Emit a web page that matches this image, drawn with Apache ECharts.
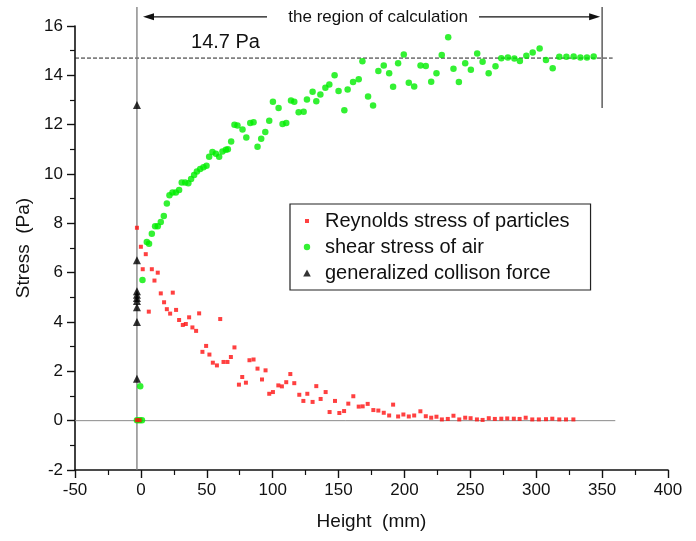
<!DOCTYPE html>
<html><head><meta charset="utf-8">
<script src="https://cdn.jsdelivr.net/npm/echarts@6/dist/echarts.min.js"></script>
<style>html,body{margin:0;padding:0;background:#fff}#c{width:696px;height:541px}</style>
</head><body><div id="c"></div>
<script>
// Reynolds stress of particles
const redX=[-3,-1,-3,0,3.7,1.4,8.3,12.8,10.3,6,15.1,24.2,17.6,19.7,22.2,26.7,29,36.6,31.8,34.1,39.1,41.9,44.2,60.2,49.5,46.7,52,54.6,57.7,62.7,65.7,68.3,71,74.4,76.9,79.7,82.4,85.5,88.5,91.9,94.6,97.4,100.2,104.3,107,110.3,113.4,116.4,120.2,123.3,126.3,130.3,133.1,136.4,140.2,143.2,147.3,150.6,154.2,157.4,161.2,165.3,168.3,172.1,176.4,180.2,184.3,188.4,191.4,195.2,199.2,203.3,207.4,212.1,216.2,220.3,224.3,228.4,232.9,237.2,241.6,246.1,250.2,255,259.3,264,268.6,273.5,278,283,287.4,292,297,302,307.4,312.2,317.5,322.6,328.2];
const redY=[0.02,0.02,7.82,7.05,6.75,6.14,6.14,6.0,5.68,4.42,5.16,5.19,4.8,4.52,4.34,4.49,4.08,4.19,3.88,3.92,3.78,3.64,4.35,4.12,3.03,2.79,2.68,2.35,2.24,2.38,2.38,2.58,2.97,1.46,1.77,1.54,2.45,2.48,2.11,1.67,2.04,1.09,1.16,1.43,1.39,1.56,1.89,1.52,1.05,0.8,1.09,0.76,1.4,0.88,1.16,0.35,0.8,0.31,0.39,0.69,0.99,0.57,0.58,0.68,0.43,0.41,0.32,0.21,0.65,0.17,0.25,0.17,0.21,0.38,0.18,0.12,0.16,0.05,0.07,0.2,0.05,0.12,0.1,0.05,0.03,0.1,0.07,0.08,0.09,0.08,0.07,0.12,0.05,0.05,0.06,0.08,0.05,0.05,0.05];
// shear stress of air
const greenX=[-3,-1,0.8,-0.5,1.2,4.5,6.2,8.3,10.8,12.8,15.1,17.4,19.7,21.7,24,26.5,29,31,33.6,36,38.1,40.4,42.5,45,47.5,49.8,51.8,54.3,56.9,59.4,61.9,64.5,66,68.5,71,73.3,77.1,80,83,85.5,88.5,91.3,94.4,97.4,100.2,104.5,107.5,110.3,113.9,116.4,119.7,123.5,126,130.3,133.1,136.2,140,143,147,150,154.4,156.9,161,165.3,168.1,172.4,176.2,180.2,184.3,188.4,191.4,195.2,199.5,203.3,207.4,212.2,216.2,220.3,224.3,228.3,233.2,237.2,241.3,246.1,250.4,255.2,259.3,263.9,269.1,273.5,278.5,283.4,287.6,292.5,297.3,302.6,307.4,312.5,317.5,322.9,328.4,333.5,338.5,343.6];
const greenY=[0.02,0.02,0.02,1.4,5.7,7.24,7.17,7.58,7.88,7.88,8.05,8.3,8.8,9.14,9.25,9.25,9.35,9.66,9.66,9.62,9.8,9.96,10.1,10.2,10.27,10.33,10.7,10.89,10.82,10.7,10.91,10.98,11.0,11.32,12.0,11.97,11.8,11.48,12.07,12.1,11.1,11.43,11.7,12.16,12.93,12.68,12.03,12.07,12.98,12.93,12.5,12.52,13.02,13.33,12.95,13.22,13.5,13.63,14.0,13.36,12.58,13.43,13.73,13.84,14.57,13.14,12.78,14.18,14.4,14.08,13.54,14.49,14.84,13.7,13.55,14.4,14.38,13.74,14.08,14.82,15.54,14.27,13.73,14.49,14.23,14.89,14.55,14.08,14.37,14.69,14.72,14.68,14.58,14.79,14.93,15.09,14.62,14.29,14.75,14.75,14.76,14.72,14.72,14.76];
// generalized collison force
const triX=[-3,-3,-3,-3,-3,-3,-3,-3,-3];
const triY=[12.8,6.5,5.25,5.1,4.97,4.85,4.6,4.0,1.7];
// axes
const xTicks={min:-50,max:400,interval:50};
const yTicks={min:-2,max:16,interval:2};
// annotations (data units)
const refLevel=14.7;
const refLabel='14.7 Pa';
const regionStart=-3, regionEnd=350, regionTopY=16.77, regionRightBottomY=12.68;
const arrowY=16.37, leftArrowX=[95.7,1.6], rightArrowX=[256.6,348.5];
const regionText='the region of calculation', regionTextX=180;
const refLabelPos=[64.2,15.35];
const names=['Reynolds stress of particles','shear stress of air','generalized collison force'];

const FONT="'Liberation Sans', Arial, Helvetica, sans-serif";
const zip=(a,b)=>a.map((v,i)=>[v,b[i]]);
const chart=echarts.init(document.getElementById('c'));
const lineStyleSeries=(data,color,type,width)=>({type:'line',data:data,symbol:'none',silent:true,clip:false,
  lineStyle:{color:color,width:width||1,type:type||'solid'},z:1,animation:false});

chart.setOption({
  animation:false,
  backgroundColor:'#fff',
  grid:{left:75,right:28,top:26,bottom:71,containLabel:false},
  legend:{
    orient:'vertical',left:290,top:204,
    padding:[7,21,7,10],itemGap:6,itemWidth:20,itemHeight:12,
    borderColor:'#222',borderWidth:1.2,
    textStyle:{fontFamily:FONT,fontSize:20,color:'#111'},
    data:[
      {name:names[0],icon:'path://M0,0M20,12M5,4h4v4h-4z'},
      {name:names[1],icon:'path://M0,0M20,12M3.8,6a3.2,3.2 0 1,0 6.4,0a3.2,3.2 0 1,0 -6.4,0z'},
      {name:names[2],icon:'path://M0,0M20,12M7,2.5L10.8,9.5L3.2,9.5z'}
    ]
  },
  xAxis:{type:'value',min:xTicks.min,max:xTicks.max,interval:xTicks.interval,
    name:'Height  (mm)',nameLocation:'middle',nameGap:42,
    nameTextStyle:{fontFamily:FONT,fontSize:19,color:'#111'},
    axisLine:{onZero:false,lineStyle:{color:'#111',width:1.6}},
    axisTick:{inside:false,length:8,lineStyle:{color:'#111',width:1.4}},
    minorTick:{show:true,splitNumber:2,length:5,lineStyle:{color:'#111',width:1.2}},
    splitLine:{show:false},
    axisLabel:{margin:12,fontFamily:FONT,fontSize:17,color:'#111'}},
  yAxis:{type:'value',min:yTicks.min,max:yTicks.max,interval:yTicks.interval,
    name:'Stress  (Pa)',nameLocation:'middle',nameGap:42,
    nameTextStyle:{fontFamily:FONT,fontSize:19,color:'#111'},
    axisLine:{onZero:false,lineStyle:{color:'#111',width:1.6}},
    axisTick:{inside:false,length:8,lineStyle:{color:'#111',width:1.4}},
    minorTick:{show:true,splitNumber:2,length:5,lineStyle:{color:'#111',width:1.2}},
    splitLine:{show:false},
    axisLabel:{margin:12,fontFamily:FONT,fontSize:17,color:'#111'}},
  series:[
    lineStyleSeries([[xTicks.min,0],[360,0]],'#8a8a8a'),
    lineStyleSeries([[xTicks.min,refLevel],[358,refLevel]],'#222','dashed',1),
    lineStyleSeries([[regionStart,yTicks.min],[regionStart,regionTopY]],'#7a7a7a','solid',1.3),
    lineStyleSeries([[regionEnd,regionRightBottomY],[regionEnd,regionTopY]],'#444','solid',1.3),
    {name:names[0],type:'scatter',data:zip(redX,redY),symbol:'rect',symbolSize:4,
      itemStyle:{color:'#ff1010'},z:3},
    {name:names[1],type:'scatter',data:zip(greenX,greenY),symbol:'circle',symbolSize:6.5,
      itemStyle:{color:'#00ee00'},z:2},
    {name:names[2],type:'scatter',data:zip(triX,triY),symbol:'triangle',symbolSize:[8,8],
      itemStyle:{color:'#000'},z:4}
  ]
});

const px=p=>chart.convertToPixel({gridIndex:0},p);
function arrow(xs){
  const a=px([xs[0],arrowY]), b=px([xs[1],arrowY]);
  const dir=Math.sign(b[0]-a[0]);
  const L=11,H=3.5;
  return [
    {type:'line',shape:{x1:a[0],y1:a[1],x2:b[0]-dir*L*0.6,y2:b[1]},style:{stroke:'#111',lineWidth:1.3},silent:true},
    {type:'polygon',shape:{points:[[b[0],b[1]],[b[0]-dir*L,b[1]-H],[b[0]-dir*L,b[1]+H]]},style:{fill:'#111'},silent:true}
  ];
}
const tpos=px([regionTextX,arrowY]);
const lpos=px(refLabelPos);
chart.setOption({graphic:[
  ...arrow(leftArrowX),...arrow(rightArrowX),
  {type:'text',x:tpos[0],y:tpos[1],style:{text:regionText,fontFamily:FONT,fontSize:17,fill:'#111',align:'center',verticalAlign:'middle'},silent:true},
  {type:'text',x:lpos[0],y:lpos[1],style:{text:refLabel,fontFamily:FONT,fontSize:20,fill:'#111',align:'center',verticalAlign:'middle'},silent:true}
]});
</script>
</body></html>
